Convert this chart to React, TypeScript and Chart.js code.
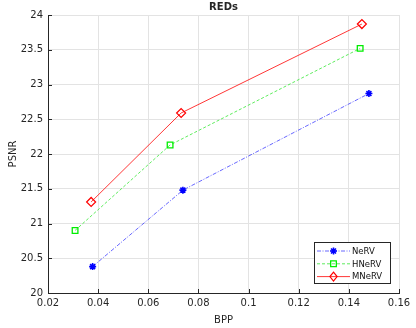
import { useEffect, useRef } from 'react';
import { Chart, registerables } from 'chart.js';
Chart.register(...registerables);

const chartTitle = 'REDs';
const xAxisTitle = 'BPP';
const yAxisTitle = 'PSNR';
const seriesNames = ['NeRV', 'HNeRV', 'MNeRV'];
const bppNeRV = [0.0378, 0.0738, 0.148];
const psnrNeRV = [20.38, 21.48, 22.87];
const bppHNeRV = [0.0308, 0.0687, 0.1445];
const psnrHNeRV = [20.9, 22.13, 23.52];
const bppMNeRV = [0.0372, 0.0731, 0.1452];
const psnrMNeRV = [21.31, 22.59, 23.87];
const xTicks = [0.02, 0.04, 0.06, 0.08, 0.1, 0.12, 0.14, 0.16];
const xTickLabels = ['0.02', '0.04', '0.06', '0.08', '0.1', '0.12', '0.14', '0.16'];
const yTicks = [20, 20.5, 21, 21.5, 22, 22.5, 23, 23.5, 24];
const yTickLabels = ['20', '20.5', '21', '21.5', '22', '22.5', '23', '23.5', '24'];

const colors = ['#0000ff', '#00ee00', '#ff0000'];
const lineColors = ['rgba(40,40,255,0.7)', 'rgba(40,230,40,0.75)', 'rgba(255,20,20,0.85)'];
const dashes = [[4, 1.5, 1, 1.5], [3, 2], []];
const styles = ['star', 'rect', 'rectRot'];
const radii = [3.5, 4, 4.5];
const markerWidths = [1.6, 1.3, 1.2];

const AX = '#262626';
const FONT = 'DejaVu Sans';

function drawMarker(ctx: CanvasRenderingContext2D, style: string, x: number, y: number, r: number, color: string, w: number) {
  ctx.save();
  ctx.setLineDash([]);
  ctx.strokeStyle = color;
  ctx.lineWidth = w;
  ctx.beginPath();
  if (style === 'star') {
    ctx.moveTo(x - r, y); ctx.lineTo(x + r, y);
    ctx.moveTo(x, y - r); ctx.lineTo(x, y + r);
    const d = r * Math.SQRT1_2;
    ctx.moveTo(x - d, y - d); ctx.lineTo(x + d, y + d);
    ctx.moveTo(x - d, y + d); ctx.lineTo(x + d, y - d);
  } else if (style === 'rect') {
    const s = r * Math.SQRT1_2;
    ctx.rect(x - s, y - s, 2 * s, 2 * s);
  } else {
    ctx.moveTo(x, y - r); ctx.lineTo(x + r * 0.8, y); ctx.lineTo(x, y + r); ctx.lineTo(x - r * 0.8, y); ctx.closePath();
  }
  ctx.stroke();
  ctx.restore();
}

const decorPlugin = {
  id: 'decor',
  afterDraw(chart: any) {
    const ctx: CanvasRenderingContext2D = chart.ctx;
    const a = chart.chartArea;
    const xs = chart.scales.x;
    const ys = chart.scales.y;
    ctx.save();
    ctx.strokeStyle = AX;
    ctx.lineWidth = 1;
    ctx.beginPath();
    xTicks.forEach((v) => {
      const px = Math.round(xs.getPixelForValue(v)) + 0.5;
      ctx.moveTo(px, a.bottom); ctx.lineTo(px, a.bottom - 4);
    });
    yTicks.forEach((v) => {
      const py = Math.round(ys.getPixelForValue(v)) + 0.5;
      ctx.moveTo(a.left, py); ctx.lineTo(a.left + 4, py);
    });
    ctx.stroke();
    ctx.fillStyle = AX;
    ctx.font = `bold 10px "${FONT}"`;
    ctx.textAlign = 'center';
    ctx.textBaseline = 'middle';
    ctx.fillText(chartTitle, (a.left + a.right) / 2, 7);
    const bx = 314, by = 242, bw = 76, bh = 41;
    ctx.fillStyle = '#fff';
    ctx.fillRect(bx, by, bw, bh);
    ctx.strokeStyle = AX;
    ctx.lineWidth = 1;
    ctx.strokeRect(bx + 0.5, by + 0.5, bw, bh);
    chart.data.datasets.forEach((ds: any, i: number) => {
      const y = by + 9 + i * 12.8;
      ctx.save();
      ctx.strokeStyle = lineColors[i];
      ctx.lineWidth = 1;
      ctx.setLineDash(dashes[i]);
      ctx.beginPath();
      ctx.moveTo(317, y); ctx.lineTo(350, y);
      ctx.stroke();
      ctx.restore();
      drawMarker(ctx, styles[i], 333.5, y, radii[i], colors[i], markerWidths[i]);
      ctx.fillStyle = '#111';
      ctx.font = `8.5px "${FONT}"`;
      ctx.textAlign = 'left';
      ctx.textBaseline = 'middle';
      ctx.fillText(ds.label, 352, y + 0.5);
    });
    ctx.restore();
  },
};

export default function App() {
  const ref = useRef<HTMLCanvasElement>(null);
  useEffect(() => {
    const mk = (xs: number[], ys: number[]) => xs.map((x, i) => ({ x, y: ys[i] }));
    const data = [mk(bppNeRV, psnrNeRV), mk(bppHNeRV, psnrHNeRV), mk(bppMNeRV, psnrMNeRV)];
    const chart = new Chart(ref.current!, {
      type: 'scatter',
      data: {
        datasets: data.map((d, i) => ({
          label: seriesNames[i],
          data: d,
          showLine: true,
          borderColor: lineColors[i],
          backgroundColor: 'rgba(0,0,0,0)',
          borderWidth: 1,
          borderDash: dashes[i],
          pointStyle: styles[i] as any,
          pointRadius: radii[i],
          pointBorderWidth: markerWidths[i],
          pointBorderColor: colors[i],
          pointBackgroundColor: 'rgba(0,0,0,0)',
          tension: 0,
        })),
      },
      plugins: [decorPlugin],
      options: {
        animation: false,
        responsive: false,
        devicePixelRatio: 1,
        layout: { padding: { top: 15, right: 17, bottom: 0, left: 0 } },
        plugins: { legend: { display: false }, title: { display: false }, tooltip: { enabled: false } },
        scales: {
          x: {
            type: 'linear',
            min: 0.02,
            max: 0.16,
            afterBuildTicks: (s: any) => { s.ticks = xTicks.map((v) => ({ value: v })); },
            afterFit: (s: any) => { s.height = 35; },
            ticks: {
              callback: (_v: any, i: number) => xTickLabels[i],
              font: { family: FONT, size: 10 },
              color: AX,
              padding: 4,
              maxRotation: 0,
              autoSkip: false,
            },
            grid: { color: '#e3e3e3', drawTicks: false },
            border: { display: true, color: AX, width: 1 },
            title: { display: true, text: xAxisTitle, font: { family: FONT, size: 10 }, color: AX, padding: { top: 0, bottom: 2 } },
          },
          y: {
            type: 'linear',
            min: 20,
            max: 24,
            afterBuildTicks: (s: any) => { s.ticks = yTicks.map((v) => ({ value: v })); },
            afterFit: (s: any) => { s.width = 48; },
            ticks: {
              callback: (_v: any, i: number) => yTickLabels[i],
              font: { family: FONT, size: 10 },
              color: AX,
              padding: 5,
              autoSkip: false,
            },
            grid: { color: '#e3e3e3', drawTicks: false },
            border: { display: true, color: AX, width: 1 },
            title: { display: true, text: yAxisTitle, font: { family: FONT, size: 10 }, color: AX, padding: { top: 7, bottom: 0 } },
          },
        },
      },
    });
    return () => chart.destroy();
  }, []);
  return (
    <div style={{ position: 'absolute', left: 0, top: 0, width: 416, height: 328, background: '#fff' }}>
      <canvas ref={ref} width={416} height={328} style={{ display: 'block' }} />
    </div>
  );
}
